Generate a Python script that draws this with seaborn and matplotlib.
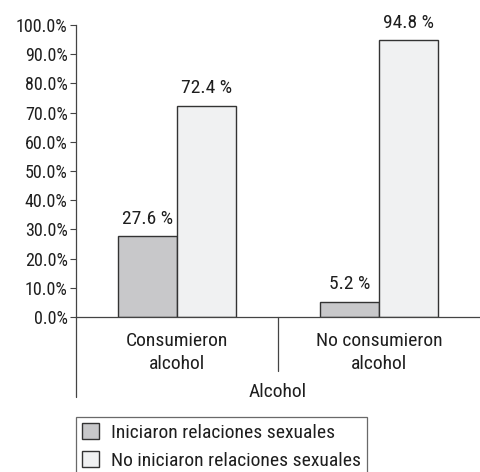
import matplotlib
matplotlib.use("Agg")
import matplotlib.pyplot as plt
from matplotlib import font_manager
from matplotlib.ticker import FuncFormatter, MultipleLocator
import seaborn as sns
import pandas as pd

grupos = ["Consumieron\nalcohol", "No consumieron\nalcohol"]
series = ["Iniciaron relaciones sexuales", "No iniciaron relaciones sexuales"]
iniciaron = [27.6, 5.2]
no_iniciaron = [72.4, 94.8]
etiquetas = ["27.6 %", "5.2 %", "72.4 %", "94.8 %"]
eje_x = "Alcohol"

sns.set_style("white")
names = {f.name for f in font_manager.fontManager.ttflist}
fam = "DejaVu Sans"
for cand in ["Roboto Condensed", "Liberation Sans Narrow", "Open Sans Condensed", "Noto Sans"]:
    if cand in names:
        fam = cand
        break
plt.rcParams["font.family"] = [fam, "DejaVu Sans"]

FS = 14
TXT = "#1e1e1e"

df = pd.DataFrame({
    "grupo": grupos * 2,
    "serie": [series[0]] * 2 + [series[1]] * 2,
    "valor": iniciaron + no_iniciaron,
})

fig = plt.figure(figsize=(4.8, 4.72), dpi=100)
ax = fig.add_axes([76 / 480, 1 - 317 / 472, 1 - 76 / 480, (317 - 25) / 472])
sns.barplot(data=df, x="grupo", y="valor", hue="serie", order=grupos, hue_order=series,
            palette=["#c8c8ca", "#f0f1f2"], width=0.58, gap=0, edgecolor="#333333",
            linewidth=1.0, ax=ax, errorbar=None, legend=True)

for cont, lbls in zip(ax.containers, [etiquetas[:2], etiquetas[2:]]):
    ax.bar_label(cont, labels=lbls, padding=6, fontsize=FS, color=TXT)

ax.set_xlim(-0.5, 1.5)
ax.set_ylim(0, 100)
ax.yaxis.set_major_locator(MultipleLocator(10))
ax.yaxis.set_major_formatter(FuncFormatter(lambda v, p: f"{v:.1f}%"))
ax.tick_params(axis="y", which="major", left=True, length=4, width=0.8, color="#444444",
               labelsize=13, labelcolor=TXT, pad=2)
ax.tick_params(axis="x", bottom=False, labelsize=FS, labelcolor=TXT, pad=7)
for lbl in ax.get_xticklabels():
    lbl.set_linespacing(1.4)
ax.set_xlabel(eje_x, fontsize=FS, color=TXT, labelpad=7)
ax.set_ylabel("")
for s in ["top", "right"]:
    ax.spines[s].set_visible(False)
for s in ["left", "bottom"]:
    ax.spines[s].set_color("#444444")
    ax.spines[s].set_linewidth(0.9)

# extended axis line and group separator
ax.plot([0, 0], [0, -(397 - 317) / 292], transform=ax.transAxes, color="#444444",
        lw=0.9, clip_on=False)
ax.plot([0.5, 0.5], [0, -(371 - 317) / 292], transform=ax.transAxes, color="#444444",
        lw=0.9, clip_on=False)

leg = ax.legend(loc="upper left", bbox_to_anchor=(76 / 480, 1 - 417 / 472),
                bbox_transform=fig.transFigure, frameon=True, fancybox=False,
                edgecolor="#444444", fontsize=FS, handlelength=0.9, handleheight=0.9,
                handletextpad=0.6, borderpad=0.3, labelspacing=0.5, borderaxespad=0,
                title=None)
leg.get_frame().set_linewidth(0.9)
for t in leg.get_texts():
    t.set_color(TXT)

fig.savefig("out.png", dpi=100)
